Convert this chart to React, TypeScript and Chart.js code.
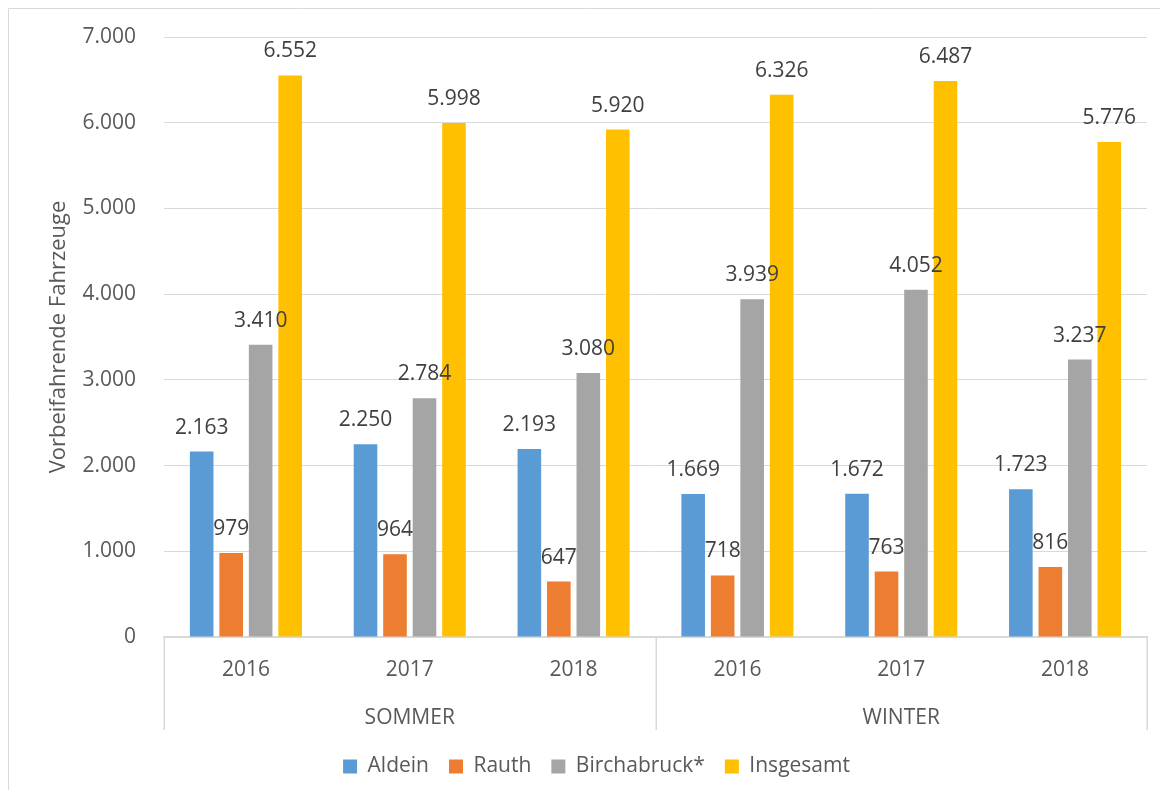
import { useEffect, useRef } from 'react';
import { Chart, registerables } from 'chart.js';

Chart.register(...registerables);

// Vehicle counts per station, summer and winter seasons 2016-2018
const years = ['2016', '2017', '2018', '2016', '2017', '2018'];
const seasons = ['SOMMER', 'WINTER'];
const aldein = [2163, 2250, 2193, 1669, 1672, 1723];
const rauth = [979, 964, 647, 718, 763, 816];
const birchabruck = [3410, 2784, 3080, 3939, 4052, 3237];
const insgesamt = [6552, 5998, 5920, 6326, 6487, 5776];
const yMin = 0;
const yMax = 7000;
const yStep = 1000;

const FONT = '"Open Sans", "Noto Sans", sans-serif';
const AXIS_GREY = '#595959';
const LABEL_GREY = '#404040';
const LINE_GREY = '#d9d9d9';
const SEPARATOR_DEPTH = 93;

const fmt = (v: number) => String(v).replace(/\B(?=(\d{3})+(?!\d))/g, '.');

// Outer frame (top and left edges)
const framePlugin = {
  id: 'frame',
  beforeDraw(chart: Chart) {
    const { ctx, width, height } = chart;
    ctx.save();
    ctx.strokeStyle = LINE_GREY;
    ctx.lineWidth = 1;
    ctx.beginPath();
    ctx.moveTo(0.5, height);
    ctx.lineTo(0.5, 0.5);
    ctx.lineTo(width, 0.5);
    ctx.stroke();
    ctx.restore();
  },
};

// Value labels above every bar
const valueLabelPlugin = {
  id: 'valueLabels',
  afterDatasetsDraw(chart: Chart) {
    const { ctx } = chart;
    ctx.save();
    ctx.font = `21px ${FONT}`;
    ctx.fillStyle = LABEL_GREY;
    ctx.textAlign = 'center';
    ctx.textBaseline = 'middle';
    chart.data.datasets.forEach((ds, di) => {
      const meta = chart.getDatasetMeta(di);
      meta.data.forEach((el: any, i: number) => {
        const v = ds.data[i] as number;
        ctx.fillText(fmt(v), el.x, el.y - 24);
      });
    });
    ctx.restore();
  },
};

// Vertical separators between the season groups below the category axis
const groupSeparatorPlugin = {
  id: 'groupSeparators',
  afterDraw(chart: Chart) {
    const xs: any = chart.scales.x;
    const groupSize = years.length / seasons.length;
    const { ctx } = chart;
    ctx.save();
    ctx.strokeStyle = LINE_GREY;
    ctx.lineWidth = 1.5;
    for (let g = 0; g <= seasons.length; g++) {
      const px = Math.round(xs.getPixelForValue(g * groupSize - 0.5)) + 0.25;
      ctx.beginPath();
      ctx.moveTo(px, xs.top);
      ctx.lineTo(px, xs.top + SEPARATOR_DEPTH);
      ctx.stroke();
    }
    ctx.restore();
  },
};

export default function App() {
  const canvasRef = useRef<HTMLCanvasElement | null>(null);

  useEffect(() => {
    if (!canvasRef.current) return;
    const bar = { categoryPercentage: 0.72, barPercentage: 0.8 };
    const chart = new Chart(canvasRef.current, {
      type: 'bar',
      data: {
        labels: years,
        datasets: [
          { label: 'Aldein', data: aldein, backgroundColor: '#5B9BD5', ...bar },
          { label: 'Rauth', data: rauth, backgroundColor: '#ED7D31', ...bar },
          { label: 'Birchabruck*', data: birchabruck, backgroundColor: '#A5A5A5', ...bar },
          { label: 'Insgesamt', data: insgesamt, backgroundColor: '#FFC000', ...bar },
        ],
      },
      options: {
        responsive: false,
        animation: false,
        layout: { padding: { left: 38, right: 13, top: 29, bottom: 3 } },
        plugins: {
          legend: {
            position: 'bottom',
            labels: {
              boxWidth: 14,
              boxHeight: 14,
              padding: 20,
              color: AXIS_GREY,
              font: { family: FONT, size: 21 },
            },
          },
          tooltip: { enabled: false },
        },
        scales: {
          y: {
            min: yMin,
            max: yMax,
            afterFit: (s: any) => { s.width = 118; },
            ticks: {
              stepSize: yStep,
              padding: 0,
              color: AXIS_GREY,
              font: { family: FONT, size: 21 },
              callback: (v: any) => fmt(Number(v)),
            },
            grid: {
              color: LINE_GREY,
              lineWidth: 1,
              drawTicks: true,
              tickLength: 28,
              tickColor: 'rgba(0,0,0,0)',
            },
            border: { display: false },
            title: {
              display: true,
              text: 'Vorbeifahrende Fahrzeuge',
              color: AXIS_GREY,
              font: { family: FONT, size: 22 },
              padding: 0,
            },
          },
          x: {
            weight: 0,
            afterFit: (s: any) => { s.height = 56; },
            ticks: {
              padding: 12,
              color: AXIS_GREY,
              font: { family: FONT, size: 21 },
              maxRotation: 0,
              autoSkip: false,
            },
            grid: { display: false },
            border: { display: true, color: LINE_GREY, width: 1.5 },
          },
          x2: {
            type: 'category',
            labels: seasons,
            position: 'bottom',
            weight: 1,
            offset: true,
            afterFit: (s: any) => { s.height = 43; },
            ticks: {
              padding: 4,
              color: AXIS_GREY,
              font: { family: FONT, size: 21 },
              maxRotation: 0,
              autoSkip: false,
            },
            grid: { display: false },
            border: { display: false },
          },
        },
      },
      plugins: [framePlugin, valueLabelPlugin, groupSeparatorPlugin],
    });
    return () => chart.destroy();
  }, []);

  return (
    <div style={{ width: 1152, height: 782 }}>
      <canvas ref={canvasRef} width={1152} height={782} style={{ display: 'block' }} />
    </div>
  );
}
